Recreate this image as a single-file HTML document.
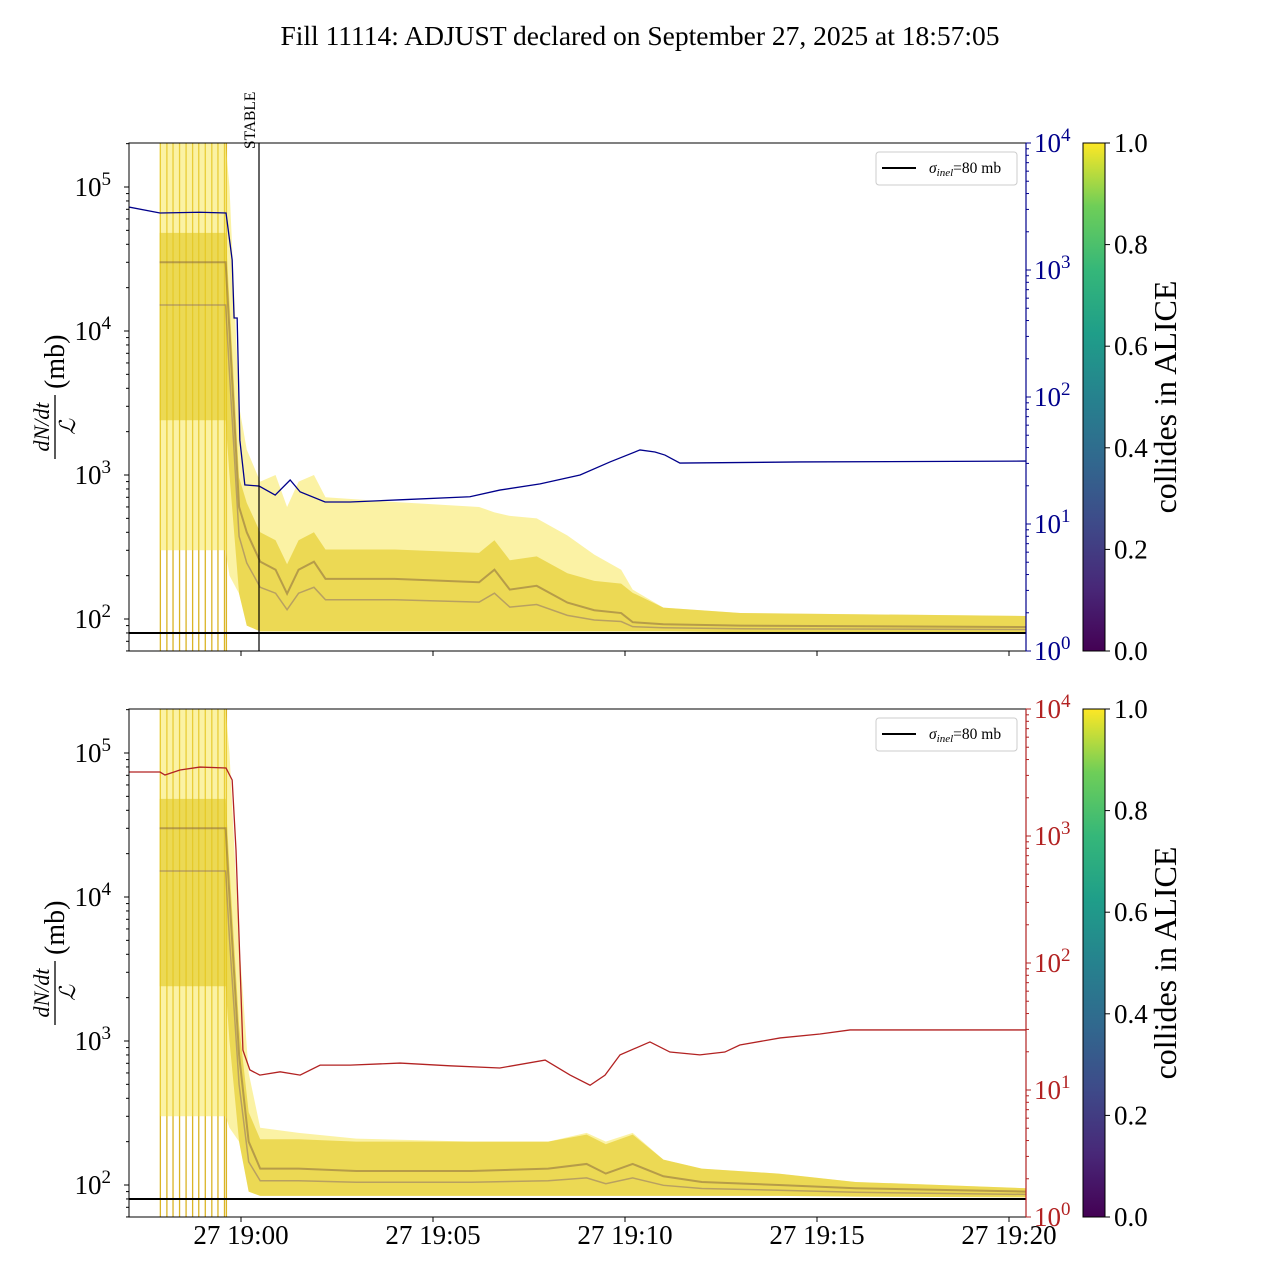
<!DOCTYPE html>
<html><head><meta charset="utf-8"><style>
body{margin:0;background:#fff;}
svg{display:block;font-family:"Liberation Serif","DejaVu Serif",serif;}
</style></head><body>
<svg id="chart" width="1280" height="1280" viewBox="0 0 1280 1280" xmlns="http://www.w3.org/2000/svg">
<defs>
<linearGradient id="viridis" x1="0" y1="1" x2="0" y2="0">
<stop offset="0" stop-color="#440154"/><stop offset="0.125" stop-color="#482878"/><stop offset="0.25" stop-color="#3e4a89"/><stop offset="0.375" stop-color="#31688e"/><stop offset="0.5" stop-color="#26828e"/><stop offset="0.625" stop-color="#1f9e89"/><stop offset="0.75" stop-color="#35b779"/><stop offset="0.875" stop-color="#6ece58"/><stop offset="1" stop-color="#fde725"/>
</linearGradient>
</defs>
<text x="640" y="45" font-size="27.5" text-anchor="middle">Fill 11114: ADJUST declared on September 27, 2025 at 18:57:05</text>
<g id="p1"></g>
<g id="p2"></g>
</svg>
<script>
// ---- data (time in minutes relative to 19:00) ----
const xTickLabels = ["27 19:00","27 19:05","27 19:10","27 19:15","27 19:20"];
const xTickMinutes = [0,5,10,15,20];
const burstLines = [-2.1,-1.93,-1.77,-1.6,-1.43,-1.26,-1.1,-0.93,-0.76,-0.6,-0.43,-0.38];
const sigmaInel = 80;

const topBandT     = [-2.12,-0.4,-0.3,-0.05,0.15,0.5,0.9,1.2,1.5,1.9,2.2,4,6.2,6.6,7.0,7.7,8.5,9.2,9.9,10.2,11,13,20.44];
const topBandUpper = [2e5,2e5,1e5,3000,1500,900,1000,600,900,1000,700,650,600,550,520,500,380,280,220,160,120,110,105];
const topBandMid   = [3e4,3e4,1e4,600,400,250,220,150,220,250,190,190,180,220,160,170,130,115,110,95,92,90,88];
const topBandLower = [300,300,200,150,90,82,82,82,82,82,82,82,82,82,82,82,82,82,82,82,82,81,81];

const botBandT     = [-2.12,-0.4,-0.3,-0.05,0.2,0.5,1.5,3,6,8,9,9.5,10.2,11,12,14,16,20.44];
const botBandUpper = [2e5,2e5,1e5,5000,600,250,230,210,200,200,230,200,230,150,130,120,105,95];
const botBandMid   = [3e4,3e4,1e4,800,200,130,130,125,125,130,140,120,140,115,105,100,95,90];
const botBandLower = [300,300,250,200,90,84,84,84,84,84,84,84,84,84,84,84,83,82];

const blueT   = [-2.92,-2.11,-1.07,-0.39,-0.23,-0.18,-0.10,-0.03,0.10,0.47,0.89,1.28,1.54,2.19,2.84,4.14,5.96,6.74,7.79,8.83,9.61,10.39,10.78,11.04,11.43,14.56,20.44];
const blueVal = [3130,2810,2850,2810,1200,419,419,45.8,20.3,19.9,16.9,22.2,17.9,14.9,14.9,15.5,16.4,18.5,20.7,24.3,30.8,38.3,36.9,34.9,30.2,30.8,31.3];

const redT   = [-2.92,-2.11,-1.98,-1.59,-1.07,-0.39,-0.23,-0.13,-0.03,0.05,0.23,0.49,1.02,1.54,2.06,2.84,4.14,5.44,6.74,7.92,8.57,9.09,9.48,9.87,10.65,11.17,11.95,12.60,12.99,14.04,15.08,15.86,17.16,20.44];
const redVal = [3190,3190,3020,3310,3490,3430,2760,776,106,20.6,14.4,13.1,13.9,13.1,15.7,15.7,16.3,15.5,14.9,17.2,13.1,10.9,13.1,18.9,23.9,19.9,18.9,19.9,22.6,25.7,27.6,29.7,29.7,29.7];

// ---- layout ----
const X0=129, X1=1026;
const xs = t => 241 + t*38.4;
const NS='http://www.w3.org/2000/svg';
function el(tag, attrs, parent){const e=document.createElementNS(NS,tag);for(const k in attrs)e.setAttribute(k,attrs[k]);parent.appendChild(e);return e;}
function sup(parent,x,y,base,exp,fill,anchor){
  const t=el('text',{x:x,y:y,'font-size':27,fill:fill,'text-anchor':anchor},parent);
  t.appendChild(document.createTextNode(base));
  const s=el('tspan',{'font-size':19,dy:-11},t);s.textContent=exp;
  return t;
}

function panel(g, top, bandT, up, mid, lo, lineT, lineV, lineColor, showX, idx){
  const bot=top+508;
  const ysL = v => top+44 - (Math.log10(v)-5)*144;
  const ysR = v => top + (4-Math.log10(v))*127;
  const cid='clip'+idx;
  const cp=el('clipPath',{id:cid},g); el('rect',{x:X0,y:top,width:X1-X0,height:508},cp);
  const plot=el('g',{'clip-path':'url(#'+cid+')'},g);
  
  
  burstLines.forEach(t=>{
    const l=el('line',{x1:xs(t),x2:xs(t),y1:top,y2:bot,stroke:'#d4a800','stroke-width':1.3,opacity:0.85},plot);
    
    
  });
  let d='M'+bandT.map((t,i)=>xs(t)+','+ysL(up[i])).join(' L');
  d+=' L'+bandT.map((t,i)=>xs(t)+','+ysL(lo[i])).reverse().join(' L')+'Z';
  const b1=el('path',{d:d,fill:'#f7e64a','fill-opacity':0.5},plot);
  
  
  let d2='M'+bandT.map((t,i)=>xs(t)+','+ysL(Math.min(up[i],mid[i]*1.6))).join(' L');
  d2+=' L'+bandT.map((t,i)=>xs(t)+','+ysL(Math.max(lo[i],Math.min(mid[i]/10,lo[i]*8)))).reverse().join(' L')+'Z';
  const b2=el('path',{d:d2,fill:'#e3c820','fill-opacity':0.6},plot);
  
  
  const m=el('polyline',{points:bandT.map((t,i)=>xs(t)+','+ysL(mid[i])).join(' '),fill:'none',stroke:'#8a6a40','stroke-width':2,opacity:0.55},plot);
  
  
  const m2=el('polyline',{points:bandT.map((t,i)=>xs(t)+','+ysL((mid[i]+lo[i])/2)).join(' '),fill:'none',stroke:'#7a5a70','stroke-width':1.5,opacity:0.45},plot);
  
  
  const sl=el('line',{x1:X0,x2:X1,y1:ysL(sigmaInel),y2:ysL(sigmaInel),stroke:'#000','stroke-width':2},plot);
  
  
  const rl=el('polyline',{points:lineT.map((t,i)=>xs(t)+','+ysR(lineV[i])).join(' '),fill:'none',stroke:lineColor,'stroke-width':1.3},plot);
  
  
  if(idx==1){
    const st=el('line',{x1:259,x2:259,y1:top,y2:bot,stroke:'#000','stroke-width':1.2},g);
    
    
    const tx=el('text',{x:0,y:0,'font-size':15.5,transform:'translate(255,149) rotate(-90)'},g);
    tx.textContent='STABLE';
    
    
  }
  const fr=el('rect',{x:X0,y:top,width:X1-X0,height:508,fill:'none',stroke:'#000','stroke-width':1},g);
  
  
  el('line',{x1:X1,x2:X1,y1:top,y2:bot,stroke:lineColor,'stroke-width':1.2},g);
  [2,3,4,5].forEach(e=>{
    const y=ysL(Math.pow(10,e));
    el('line',{x1:X0-5,x2:X0,y1:y,y2:y,stroke:'#000'},g);
    const t=sup(g,X0-18,y+9,'10',String(e),'#000','end');
    
    
    for(let k=2;k<10;k++){const yy=ysL(k*Math.pow(10,e));if(yy>top&&yy<bot)el('line',{x1:X0-3,x2:X0,y1:yy,y2:yy,stroke:'#000'},g);}
  });
  [6,7,8,9].forEach(k=>{const yy=ysL(k*10);if(yy<bot)el('line',{x1:X0-3,x2:X0,y1:yy,y2:yy,stroke:'#000'},g);});
  [0,1,2,3,4].forEach(e=>{
    const y=ysR(Math.pow(10,e));
    el('line',{x1:X1,x2:X1+5,y1:y,y2:y,stroke:lineColor},g);
    const t=sup(g,X1+8,y+9,'10',String(e),lineColor,'start');
    
    
    if(e<4)for(let k=2;k<10;k++){const yy=ysR(k*Math.pow(10,e));el('line',{x1:X1,x2:X1+3,y1:yy,y2:yy,stroke:lineColor},g);}
  });
  xTickMinutes.forEach((t,i)=>{
    el('line',{x1:xs(t),x2:xs(t),y1:bot,y2:bot+5,stroke:'#000'},g);
    if(showX){const tx=el('text',{x:xs(t),y:bot+27,'font-size':27,'text-anchor':'middle'},g);tx.textContent=xTickLabels[i];
      
      }
  });
  const yl=el('g',{transform:'translate(55,'+(top+254)+') rotate(-90)'},g);
  
  
  const a=el('text',{x:-30,y:-6,'font-size':22,'font-style':'italic','text-anchor':'middle'},yl);a.textContent='dN/dt';
  el('line',{x1:-62,x2:2,y1:0,y2:0,stroke:'#000','stroke-width':1.3},yl);
  const b=el('text',{x:-30,y:20,'font-size':22,'font-style':'italic','text-anchor':'middle'},yl);b.textContent='ℒ';
  const c=el('text',{x:8,y:9,'font-size':28},yl);c.textContent='(mb)';
  const lg=el('g',{},g);
  
  
  el('rect',{x:876,y:top+9,width:141,height:33,rx:3,fill:'#fff',stroke:'#ccc'},lg);
  el('line',{x1:882,x2:916,y1:top+25,y2:top+25,stroke:'#000','stroke-width':2},lg);
  const lt=el('text',{x:929,y:top+30,'font-size':15.5},lg);
  const s1=el('tspan',{'font-style':'italic'},lt);s1.textContent='σ';
  const s2=el('tspan',{'font-style':'italic','font-size':11,dy:3},lt);s2.textContent='inel';
  const s3=el('tspan',{dy:-3},lt);s3.textContent='=80 mb';
  const cb=el('g',{},g);
  
  
  el('rect',{x:1083,y:top,width:22,height:508,fill:'url(#viridis)',stroke:'#000'},cb);
  [0,0.2,0.4,0.6,0.8,1.0].forEach(v=>{
    const y=bot-v*508;
    el('line',{x1:1105,x2:1110,y1:y,y2:y,stroke:'#000'},cb);
    const t=el('text',{x:1114,y:y+9,'font-size':27},cb);t.textContent=v.toFixed(1);
  });
  const cl=el('text',{x:0,y:0,'font-size':32,'text-anchor':'middle',transform:'translate(1176,'+(top+254)+') rotate(-90)'},cb);
  cl.textContent='collides in ALICE';
}
panel(document.getElementById('p1'),143,topBandT,topBandUpper,topBandMid,topBandLower,blueT,blueVal,'#00008b',false,1);
panel(document.getElementById('p2'),709,botBandT,botBandUpper,botBandMid,botBandLower,redT,redVal,'#b22222',true,2);
</script>
</body></html>
